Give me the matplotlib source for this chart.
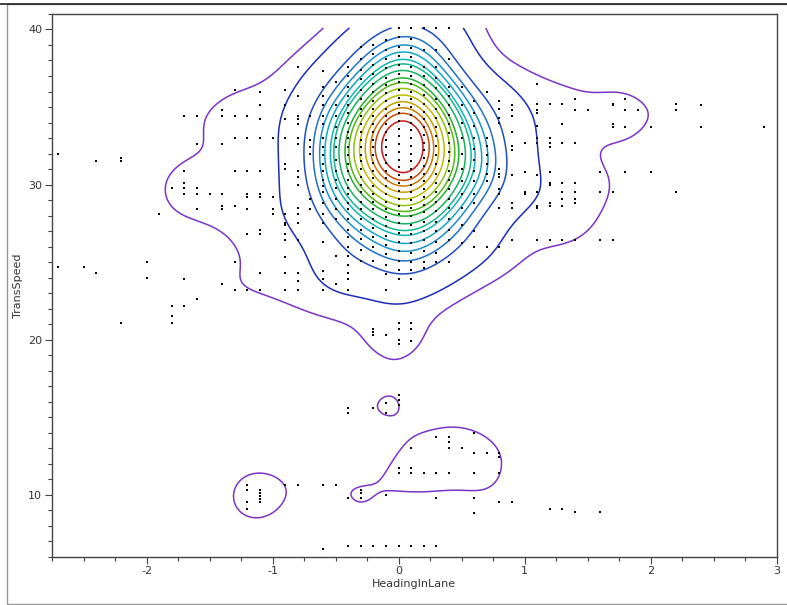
import numpy as np
import matplotlib
matplotlib.use("Agg")
import matplotlib.pyplot as plt
from matplotlib.patches import Rectangle
from matplotlib.ticker import MultipleLocator

plt.rcParams["font.family"] = "DejaVu Sans"
plt.rcParams["axes.unicode_minus"] = False

# scattered records away from the dense core (HeadingInLane, TransSpeed)
OUTER_HEADING = [
    -2.7, -2.7, -2.5, -2.4, -2.4, -2.2, -2.2, -2.2, -2.0, -2.0, -1.9,
    -1.8, -1.8, -1.8, -1.8, -1.7, -1.7, -1.7, -1.7, -1.7, -1.7, -1.7,
    -1.6, -1.6, -1.6, -1.6, -1.6, -1.6, -1.5,
    -1.4, -1.4, -1.4, -1.4, -1.4, -1.4, -1.4,
    -1.3, -1.3, -1.3, -1.3, -1.3, -1.3, -1.3,
    -1.2, -1.2, -1.2, -1.2, -1.2, -1.2, -1.2, -1.2,
    -1.1, -1.1, -1.1, -1.1, -1.1, -1.1, -1.1, -1.1, -1.1, -1.1, -1.1,
    -1.0, -1.0, -1.0, -1.0,
    -0.9, -0.9, -0.9, -0.9, -0.9, -0.9, -0.9, -0.9, -0.9, -0.9, -0.9,
    -0.9, -0.9, -0.9,
    -0.8, -0.8, -0.8, -0.8, -0.8, -0.8, -0.8, -0.8, -0.8, -0.8, -0.8,
    -0.8, -0.8, -0.8, -0.8, -0.8, -0.8,
    -0.7, -0.7, -0.7, -0.7, -0.7, -0.7,
    0.9, 0.9, 0.9, 0.9, 0.9, 0.9, 0.9, 0.9, 0.9, 0.9,
    1.0, 1.0, 1.0, 1.0,
    1.1, 1.1, 1.1, 1.1, 1.1, 1.1, 1.1, 1.1, 1.1, 1.1, 1.1, 1.1,
    1.2, 1.2, 1.2, 1.2, 1.2, 1.2, 1.2, 1.2, 1.2, 1.2,
    1.3, 1.3, 1.3, 1.3, 1.3, 1.3, 1.3, 1.3,
    1.4, 1.4, 1.4, 1.4, 1.4, 1.4, 1.4, 1.4,
    1.5, 1.6, 1.6, 1.6,
    1.7, 1.7, 1.7, 1.7, 1.7, 1.7,
    1.8, 1.8, 1.8, 1.8, 1.9, 2.0, 2.0,
    2.2, 2.2, 2.2, 2.4, 2.4, 2.9,
]
OUTER_SPEED = [
    32.0, 24.7, 24.7, 31.5, 24.3, 31.7, 31.5, 21.1, 25.0, 24.0, 28.1,
    29.8, 22.2, 21.5, 21.1, 34.4, 30.9, 30.1, 29.8, 29.4, 23.9, 22.2,
    34.4, 32.6, 29.8, 29.4, 28.4, 22.6, 29.4,
    34.8, 34.4, 32.6, 29.4, 28.6, 28.4, 23.6,
    36.1, 34.4, 33.0, 30.9, 28.6, 25.0, 23.2,
    34.4, 33.0, 30.9, 29.4, 29.2, 28.4, 26.8, 23.2,
    36.0, 35.1, 34.2, 33.0, 30.9, 29.4, 29.2, 27.1, 26.8, 24.3, 23.2,
    33.0, 29.2, 28.4, 28.1,
    36.1, 35.1, 34.2, 33.0, 31.3, 31.0, 28.1, 27.5, 27.4, 26.8, 26.4,
    25.3, 24.3, 23.2,
    37.6, 35.7, 34.4, 34.2, 33.9, 33.0, 32.6, 30.9, 30.5, 30.0, 28.5,
    28.1, 27.5, 26.4, 24.3, 23.8, 23.2,
    34.4, 32.9, 32.4, 32.0, 29.1, 28.4,
    35.1, 34.8, 34.4, 33.4, 32.5, 32.2, 30.6, 28.8, 28.5, 26.4,
    32.7, 30.8, 29.5, 29.4,
    36.5, 35.2, 34.8, 34.6, 33.8, 33.0, 32.7, 30.6, 29.5, 28.6, 28.5, 26.4,
    35.2, 33.0, 32.7, 32.4, 30.8, 30.1, 30.0, 28.8, 28.6, 26.4,
    35.2, 33.9, 32.7, 30.1, 29.5, 29.1, 28.6, 26.4,
    35.5, 34.8, 32.7, 30.1, 29.5, 29.1, 28.8, 26.4,
    34.8, 30.8, 29.5, 26.4,
    35.2, 35.1, 33.9, 33.7, 29.5, 26.4,
    35.5, 34.8, 33.7, 30.8, 34.8, 33.7, 30.8,
    35.2, 34.8, 29.5, 35.1, 33.7, 33.7,
]

# slow records below the main cloud
LOW_HEADING = [
    -0.2, -0.2, -0.2, -0.1, 0.0, 0.0, 0.0, 0.0, 0.1, 0.1, 0.1,
    -0.4, -0.4, -0.2, -0.1, -0.1, 0.0, 0.0, 0.0,
    -1.2, -1.2, -1.2, -1.2, -1.1, -1.1, -1.1, -1.1, -1.1,
    -0.9, -0.8, -0.6, -0.5, -0.4, -0.3, -0.3, -0.3, -0.1,
    -0.6, -0.4, -0.3, -0.2, -0.1, 0.0, 0.1, 0.2, 0.3,
    0.1, 0.3, 0.4, 0.4, 0.4, 0.5, 0.6, 0.6, 0.7, 0.8, 0.8,
    0.0, 0.0, 0.1, 0.1, 0.2, 0.3, 0.4, 0.6, 0.8,
    0.3, 0.6, 0.8, 0.9, 0.6, 1.2, 1.3, 1.4, 1.6,
]
LOW_SPEED = [
    20.7, 20.5, 20.3, 20.3, 21.1, 20.7, 20.0, 19.7, 21.1, 20.7, 19.9,
    15.6, 15.3, 15.6, 15.9, 15.3, 16.4, 16.1, 15.8,
    10.6, 10.3, 9.5, 9.1, 10.3, 10.1, 9.9, 9.7, 9.5,
    10.6, 10.6, 10.6, 10.6, 9.8, 10.3, 10.1, 9.8, 10.0,
    6.5, 6.7, 6.7, 6.7, 6.7, 6.7, 6.7, 6.7, 6.7,
    13.0, 13.7, 13.7, 13.4, 13.0, 13.0, 14.0, 12.7, 12.7, 12.7, 12.4,
    11.7, 11.4, 11.7, 11.4, 11.4, 11.4, 11.4, 11.4, 11.4,
    9.8, 9.8, 9.5, 9.5, 8.8, 9.1, 9.1, 8.9, 8.9,
]

# dense core: one heading column each, speeds stacked in it,
# with the number of overlapping records drawn at each speed
CORE_HEADING = [-0.6, -0.5, -0.4, -0.3, -0.2, -0.1, 0.0, 0.1, 0.2, 0.3, 0.4, 0.5, 0.6, 0.7, 0.8]
SPEED_M06 = [37.3, 36.3, 35.7, 35.1, 34.4, 33.9, 33.0, 32.4, 31.9, 31.3, 30.9, 30.3,
             29.9, 29.5, 28.8, 28.1, 27.5, 26.3, 24.4, 23.9, 23.2]
COUNT_M06 = [2, 4, 4, 4, 7, 7, 7, 7, 7, 7, 7, 4, 4, 4, 4, 4, 2, 2, 2, 2, 2]
SPEED_M05 = [36.6, 35.1, 34.4, 33.7, 33.0, 32.4, 31.6, 30.9, 30.3, 29.8, 29.1, 28.4,
             27.8, 25.4, 23.6]
COUNT_M05 = [4, 7, 9, 9, 11, 11, 11, 9, 9, 9, 7, 7, 4, 4, 2]
SPEED_M04 = [37.6, 37.0, 36.3, 35.7, 35.1, 34.6, 34.0, 33.4, 33.0, 32.4, 31.9, 31.3,
             30.9, 30.3, 29.8, 29.4, 28.8, 28.4, 27.8, 27.1, 26.6, 26.0, 25.4, 24.8,
             24.3, 23.9, 23.2]
COUNT_M04 = [3, 5, 5, 6, 8, 8, 9, 9, 11, 11, 11, 11, 11, 9, 9, 9, 8, 8, 6, 6, 5, 5, 5,
             3, 3, 3, 3]
SPEED_M03 = [38.9, 38.1, 37.4, 36.8, 36.1, 35.5, 34.9, 34.4, 33.9, 33.4, 32.9, 32.4,
             31.9, 31.5, 31.0, 30.5, 30.0, 29.5, 28.9, 28.4, 27.8, 27.1, 26.5, 25.8, 25.1]
COUNT_M03 = [4, 5, 6, 7, 8, 10, 11, 12, 12, 13, 13, 13, 13, 12, 12, 11, 10, 10, 8, 7,
             6, 5, 4, 4, 2]
SPEED_M02 = [39.0, 38.4, 37.7, 37.1, 36.5, 36.0, 35.4, 34.9, 34.4, 33.9, 33.4, 32.9,
             32.4, 31.9, 31.4, 30.9, 30.4, 29.9, 29.4, 28.9, 28.4, 27.8, 27.2, 26.6,
             26.0, 25.1]
COUNT_M02 = [4, 5, 6, 7, 8, 10, 11, 12, 13, 14, 15, 15, 15, 15, 14, 13, 12, 11, 10, 9,
             8, 7, 6, 5, 4, 3]
SPEED_M01 = [39.3, 38.7, 38.1, 37.5, 36.9, 36.4, 35.9, 35.4, 34.9, 34.4, 33.9, 33.4,
             32.9, 32.4, 31.9, 31.4, 30.9, 30.4, 29.9, 29.4, 28.9, 28.4, 27.9, 27.3,
             26.7, 26.1, 25.5, 24.8, 24.2, 23.2]
COUNT_M01 = [5, 6, 7, 8, 9, 11, 12, 14, 14, 16, 17, 18, 19, 19, 19, 18, 17, 16, 14, 14,
             12, 11, 10, 8, 7, 6, 5, 5, 4, 3]
SPEED_P00 = [40.1, 39.5, 38.9, 38.3, 37.7, 37.1, 36.6, 36.1, 35.6, 35.1, 34.6, 34.1,
             33.6, 33.1, 32.6, 32.1, 31.6, 31.1, 30.6, 30.1, 29.6, 29.1, 28.6, 28.1,
             27.5, 26.9, 26.3, 25.7, 25.1, 24.5, 23.9]
COUNT_P00 = [7, 8, 9, 10, 10, 11, 13, 14, 15, 16, 18, 18, 20, 21, 21, 21, 20, 19, 18,
             17, 15, 14, 13, 11, 10, 9, 7, 6, 6, 5, 4]
SPEED_P01 = [40.1, 39.4, 38.8, 38.2, 37.6, 37.0, 36.5, 36.0, 35.5, 35.0, 34.5, 34.0,
             33.5, 33.0, 32.5, 32.0, 31.5, 31.0, 30.5, 30.0, 29.5, 29.0, 28.5, 28.0,
             27.4, 26.8, 26.2, 25.6, 25.0, 24.5, 23.9]
COUNT_P01 = [7, 8, 9, 9, 10, 11, 13, 14, 15, 16, 18, 19, 20, 21, 21, 21, 20, 20, 18,
             17, 15, 14, 13, 11, 9, 9, 7, 6, 5, 4, 3]
SPEED_P02 = [40.1, 38.7, 37.6, 37.0, 36.4, 35.8, 35.2, 34.7, 34.2, 33.7, 33.2, 32.7,
             32.2, 31.7, 31.2, 30.7, 30.2, 29.7, 29.2, 28.7, 28.2, 27.6, 27.0, 26.4,
             25.7, 25.0, 24.6]
COUNT_P02 = [6, 8, 9, 10, 11, 12, 14, 15, 16, 17, 18, 18, 18, 17, 17, 16, 15, 14, 12,
             11, 10, 9, 8, 7, 6, 5, 4]
SPEED_P03 = [40.1, 38.7, 37.6, 36.9, 36.2, 35.5, 34.9, 34.3, 33.7, 33.1, 32.5, 31.9,
             31.3, 30.7, 30.1, 29.5, 28.9, 28.3, 27.6, 27.0, 26.3, 25.6, 25.0]
COUNT_P03 = [6, 7, 8, 10, 11, 12, 13, 14, 16, 16, 16, 16, 14, 14, 13, 12, 11, 10, 8, 7,
             6, 5, 4]
SPEED_P04 = [40.1, 38.1, 36.3, 35.7, 35.1, 34.5, 33.9, 33.3, 32.7, 32.1, 31.5, 30.9,
             30.3, 29.7, 29.1, 28.5, 27.8, 27.1, 26.4, 25.0]
COUNT_P04 = [6, 8, 9, 11, 12, 14, 14, 15, 15, 15, 15, 14, 14, 12, 11, 9, 8, 6, 5, 5]
SPEED_P05 = [36.3, 35.1, 34.0, 33.0, 32.0, 31.0, 30.2, 29.4, 28.5, 27.4, 26.2]
COUNT_P05 = [7, 9, 11, 13, 13, 13, 13, 11, 9, 7, 7]
SPEED_P06 = [35.4, 34.6, 33.8, 33.0, 32.3, 31.6, 30.9, 30.2, 29.4, 28.8, 27.0, 26.0]
COUNT_P06 = [4, 7, 9, 11, 11, 11, 9, 9, 7, 7, 4, 4]
SPEED_P07 = [36.0, 33.0, 32.5, 31.9, 31.3, 30.7, 30.2, 26.0]
COUNT_P07 = [5, 8, 8, 8, 8, 5, 5, 3]
SPEED_P08 = [35.4, 34.9, 34.3, 34.0, 31.0, 30.7, 30.5, 29.7, 29.4, 28.5, 26.0]
COUNT_P08 = [3, 5, 5, 5, 5, 5, 5, 5, 3, 3, 3]

CORE_SPEEDS = [SPEED_M06, SPEED_M05, SPEED_M04, SPEED_M03, SPEED_M02, SPEED_M01,
               SPEED_P00, SPEED_P01, SPEED_P02, SPEED_P03, SPEED_P04, SPEED_P05,
               SPEED_P06, SPEED_P07, SPEED_P08]
CORE_COUNTS = [COUNT_M06, COUNT_M05, COUNT_M04, COUNT_M03, COUNT_M02, COUNT_M01,
               COUNT_P00, COUNT_P01, COUNT_P02, COUNT_P03, COUNT_P04, COUNT_P05,
               COUNT_P06, COUNT_P07, COUNT_P08]

# probability levels of the density contours (share of records outside)
CONTOUR_FRACTIONS = [0.02, 0.065, 0.11, 0.16, 0.21, 0.26, 0.31, 0.36, 0.42,
                     0.48, 0.54, 0.60, 0.66, 0.72, 0.78, 0.84, 0.91]
CONTOUR_COLORS = ["#7b35c6", "#1c2cb8", "#1f4dc2", "#2070c8", "#1890cc", "#12a6c4",
                  "#10b6b4", "#10b890", "#14b262", "#22b030", "#52b814", "#92c010",
                  "#bcbc00", "#c8a000", "#c87a00", "#c84a08", "#c81818"]


def kernels(px, py, qx, qy, hx, hy):
    kx = np.exp(-0.5 * ((qx[:, None] - px[None, :]) / hx) ** 2)
    ky = np.exp(-0.5 * ((qy[:, None] - py[None, :]) / hy) ** 2)
    return kx, ky


def main():
    core_x = np.concatenate([[h] * len(s) for h, s in zip(CORE_HEADING, CORE_SPEEDS)])
    core_y = np.concatenate(CORE_SPEEDS)
    core_w = np.concatenate(CORE_COUNTS)
    n_out = len(OUTER_HEADING) + len(LOW_HEADING)
    x = np.concatenate([OUTER_HEADING, LOW_HEADING, core_x])
    y = np.concatenate([OUTER_SPEED, LOW_SPEED, core_y])
    w = np.concatenate([np.ones(n_out), core_w])

    # density is estimated over the range of the data only
    hx, hy = 0.19, 1.5
    gx = np.linspace(x.min(), x.max(), 320)
    gy = np.linspace(y.min(), y.max(), 320)
    kx, ky = kernels(x, y, gx, gy, hx, hy)
    z = (ky * w) @ kx.T

    px, py = kernels(x, y, x, y, hx, hy)
    dens = (px * py) @ w
    order = np.argsort(dens)
    cum = np.cumsum(w[order]) / w.sum()
    levels = dens[order][np.searchsorted(cum, CONTOUR_FRACTIONS)]
    levels = np.maximum.accumulate(levels) + np.arange(len(levels)) * 1e-9

    fig = plt.figure(figsize=(7.87, 6.05), dpi=100)
    ax = fig.add_axes([0.0661, 0.0798, 0.9206, 0.8971])

    ax.contour(gx, gy, z, levels=levels, colors=CONTOUR_COLORS, linewidths=1.1, zorder=2)
    ax.scatter(x, y, s=3.2, marker="s", c="black", linewidths=0, zorder=3)

    ax.set_xlim(-2.75, 3.0)
    ax.set_ylim(6.0, 41.0)
    ax.set_xticks([-2, -1, 0, 1, 2, 3])
    ax.set_yticks([10, 20, 30, 40])
    ax.xaxis.set_minor_locator(MultipleLocator(0.25))
    ax.yaxis.set_minor_locator(MultipleLocator(1))
    ax.tick_params(which="major", length=5, width=0.8, color="#444", labelsize=8,
                   labelcolor="#333", pad=2)
    ax.tick_params(which="minor", length=3, width=0.8, color="#444")
    for side in ax.spines.values():
        side.set_color("#444")
        side.set_linewidth(1.0)

    ax.set_xlabel("HeadingInLane", fontsize=8, color="#333", labelpad=2)
    ax.set_ylabel("TransSpeed", fontsize=8, color="#333", labelpad=4)

    fig.patches.append(Rectangle((6.5 / 787, 1 / 605), 1.0, 600 / 605,
                                 transform=fig.transFigure, fill=False,
                                 ec="#999999", lw=1.0))
    fig.lines.append(plt.Line2D([0, 1], [1 - 4 / 605] * 2, transform=fig.transFigure,
                                color="#222", lw=1.2))

    fig.savefig("out.png", dpi=100)


if __name__ == "__main__":
    main()
